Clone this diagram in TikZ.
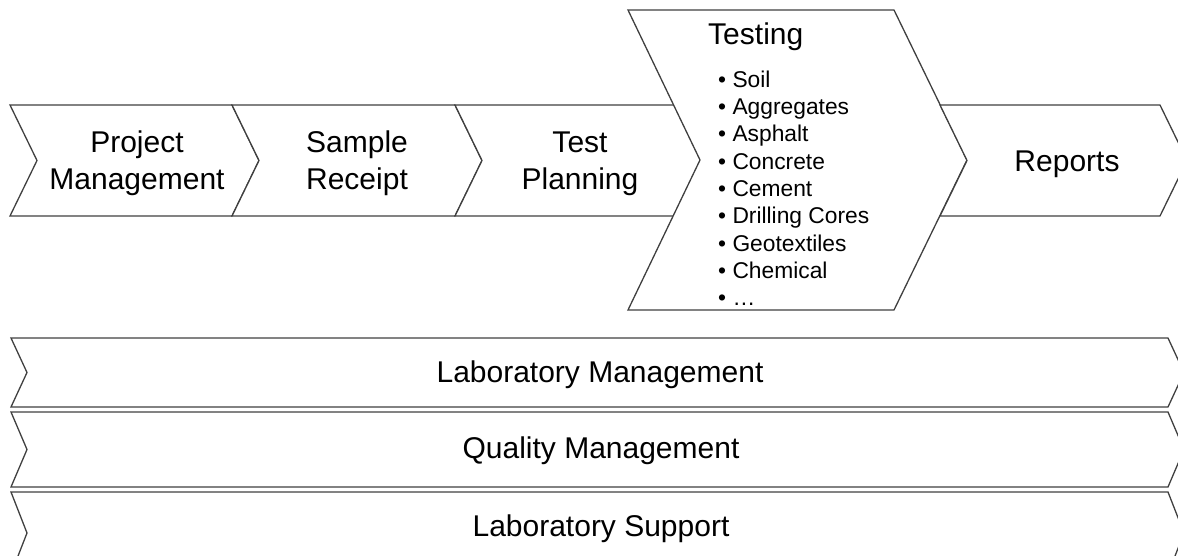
\documentclass[tikz,border=0pt]{standalone}
\usepackage{fontspec}
\setmainfont{Liberation Sans}
\usetikzlibrary{calc}

\tikzset{
  chev/.style={draw=black!75, line width=1.3pt, fill=white, line join=miter},
  lbl/.style={font=\fontsize{30}{37}\selectfont, align=center, inner sep=0, anchor=base},
  listitem/.style={font=\fontsize{22.8}{27}\selectfont, anchor=base west, inner sep=0},
}

\begin{document}
\begin{tikzpicture}[x=1pt, y=-1pt]
\useasboundingbox (0,0) rectangle (1178,556);
\clip (0,0) rectangle (1178,556);
% process row
\foreach \a/\b in {10/232, 232/455, 455/678} {
\draw[chev] (\a,105) -- (\b,105) -- ++(27,55.5) -- (\b,216) -- (\a,216) -- ++(27,-55.5) -- cycle;
}
\draw[chev] (628,10) -- (894,10) -- (967,160) -- (894,310) -- (628,310) -- (700,160) -- cycle;
\draw[chev] (940,105) -- (1160,105) -- (1187,160.5) -- (1160,216) -- (940,216) -- (967,160.5) -- cycle;
% support bars
\foreach \t/\b in {338/407, 412/487, 492/574} {
\draw[chev] (11,\t) -- (1168,\t) -- (1184,{(\t+\b)/2}) -- (1168,\b) -- (11,\b) -- (27,{(\t+\b)/2}) -- cycle;
}
\node[lbl] (proj) at (137,190) {Project\\Management};
\node[lbl] (samp) at (357,190) {Sample\\Receipt};
\node[lbl] (plan) at (580,190) {Test\\Planning};
\node[lbl, anchor=base west] (test) at (708,45) {Testing};
\node[lbl] (rep) at (1067,172) {Reports};
\foreach \mat [count=\i] in {Soil, Aggregates, Asphalt, Concrete, Cement, Drilling Cores, Geotextiles, Chemical, {\ldots}} {
\node[listitem] (t\i) at (718,{87.3+27.3*(\i-1)}) {\textbullet\ \mat};
}
\node[lbl] (labm) at (600,382) {Laboratory Management};
\node[lbl] (qm) at (601,458.5) {Quality Management};
\node[lbl] (labs) at (601,536) {Laboratory Support};
\end{tikzpicture}
\end{document}
